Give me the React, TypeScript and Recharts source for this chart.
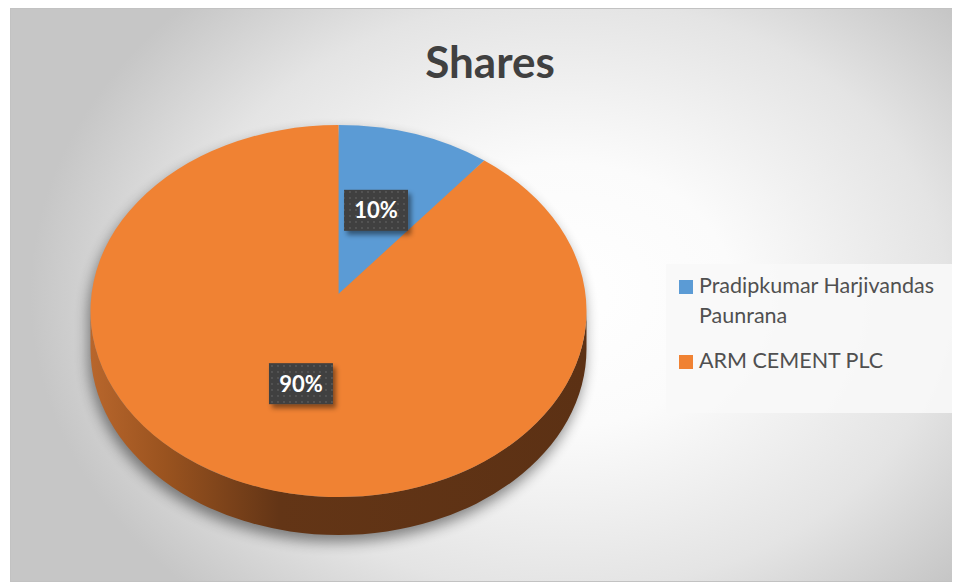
import React from 'react';
import { PieChart, Pie, Legend } from 'recharts';

const CATEGORIES = ['Pradipkumar Harjivandas Paunrana', 'ARM CEMENT PLC'];
const SHARES = [10, 90];
const COLORS = ['#5B9BD5', '#F08233'];
const SIDE_FILLS = ['#2f5f8c', 'url(#sideGrad)'];

const data = CATEGORIES.map((name, i) => ({ name, value: SHARES[i], fill: COLORS[i], side: SIDE_FILLS[i] }));

// tilt of the 3d pie
const K = 0.75; // vertical squash
const LIFT = 17; // apex sits above the ellipse centre
const DEPTH = 38; // thickness of the side
const RAD = Math.PI / 180;

const pt = (cx: number, cy: number, r: number, deg: number) => [
  cx + r * Math.cos(deg * RAD),
  cy - r * K * Math.sin(deg * RAD),
];

const topPath = (p: any) => {
  const { cx, cy, outerRadius: r, startAngle, endAngle } = p;
  const [x1, y1] = pt(cx, cy, r, startAngle);
  const [x2, y2] = pt(cx, cy, r, endAngle);
  const large = Math.abs(startAngle - endAngle) > 180 ? 1 : 0;
  return `M ${cx} ${cy - LIFT} L ${x1} ${y1} A ${r} ${r * K} 0 ${large} 1 ${x2} ${y2} Z`;
};

const sidePaths = (p: any) => {
  const { cx, cy, outerRadius: r, startAngle, endAngle } = p;
  const hi0 = Math.max(startAngle, endAngle);
  const lo0 = Math.min(startAngle, endAngle);
  const out: string[] = [];
  [[-180, 0], [180, 360], [-540, -360]].forEach(([a, b]) => {
    const lo = Math.max(lo0, a);
    const hi = Math.min(hi0, b);
    if (hi - lo <= 0.01) return;
    const [x1, y1] = pt(cx, cy, r, hi);
    const [x2, y2] = pt(cx, cy, r, lo);
    out.push(
      `M ${x1} ${y1} A ${r} ${r * K} 0 0 1 ${x2} ${y2} L ${x2} ${y2 + DEPTH} A ${r} ${r * K} 0 0 0 ${x1} ${y1 + DEPTH} Z`
    );
  });
  return out;
};

const ShadowShape = (p: any) => (
  <g filter="url(#pieShadow)" opacity={0.45}>
    <path d={topPath(p)} fill="#000" transform="translate(-2 7)" />
    {sidePaths(p).map((d, i) => (
      <path key={i} d={d} fill="#000" transform="translate(-2 7)" />
    ))}
  </g>
);

const SideShape = (p: any) => (
  <g>
    {sidePaths(p).map((d, i) => (
      <path key={i} d={d} fill={p.payload?.side ?? p.side} />
    ))}
  </g>
);

const TopShape = (p: any) => <path d={topPath(p)} fill={p.fill} />;

const renderLabel = (p: any) => {
  const { cx, cy, outerRadius, midAngle, percent } = p;
  const [x, y0] = pt(cx, cy - LIFT, outerRadius * 0.49, midAngle);
  const y = y0 + 3;
  const w = 64;
  const h = 41;
  return (
    <g>
      <rect x={x - w / 2} y={y - h / 2} width={w} height={h} fill="#404040" filter="url(#lblShadow)" />
      <rect x={x - w / 2} y={y - h / 2} width={w} height={h} fill="url(#dots)" />
      <text
        x={x}
        y={y + 8}
        textAnchor="middle"
        fill="#ffffff"
        fontFamily="Lato, 'Open Sans', sans-serif"
        fontWeight={700}
        fontSize={22}
      >
        {`${Math.round(percent * 100)}%`}
      </text>
    </g>
  );
};

const LegendBox = () => (
  <div
    style={{
      width: 292,
      height: 149,
      boxSizing: 'border-box',
      background: 'rgba(248,248,248,0.9)',
      padding: '6px 6px 0 13px',
      fontFamily: "Lato, 'Open Sans', sans-serif",
      fontSize: 21.5,
      lineHeight: '30px',
      color: '#505050',
    }}
  >
    {CATEGORIES.map((c, i) => (
      <div key={c} style={{ display: 'flex', alignItems: 'flex-start', marginBottom: 15 }}>
        <span style={{ width: 14, height: 14, background: COLORS[i], marginTop: 10, marginRight: 6, flexShrink: 0 }} />
        <span style={{ width: 250 }}>{c}</span>
      </div>
    ))}
  </div>
);

export default function App() {
  const cx = 327.5;
  const cy = 302;
  const r = 248;
  return (
    <div
      style={{
        position: 'relative',
        width: 952,
        height: 572,
        marginLeft: 2,
        border: '1px solid #c2c2c2',
        background:
          'radial-gradient(ellipse 56% 72% at 58% 50%, #ffffff 0%, #fbfbfb 32%, #e4e4e4 72%, #c6c6c6 100%)',
      }}
    >
      <svg width={0} height={0} style={{ position: 'absolute' }}>
        <defs>
          <linearGradient id="sideGrad" gradientUnits="userSpaceOnUse" x1={cx - r} y1={0} x2={cx + r} y2={0}>
            <stop offset="0%" stopColor="#b8662c" />
            <stop offset="15%" stopColor="#9a531f" />
            <stop offset="38%" stopColor="#633516" />
            <stop offset="100%" stopColor="#5c3114" />
          </linearGradient>
          <filter id="pieShadow" x="-20%" y="-20%" width="140%" height="140%">
            <feGaussianBlur stdDeviation="7" />
          </filter>
          <filter id="lblShadow" x="-30%" y="-30%" width="170%" height="170%">
            <feDropShadow dx="3" dy="4" stdDeviation="2.5" floodColor="#000" floodOpacity="0.45" />
          </filter>
          <pattern id="dots" width="6" height="6" patternUnits="userSpaceOnUse">
            <circle cx="3" cy="3" r="0.9" fill="#5a5a5a" />
          </pattern>
        </defs>
      </svg>
      <div
        style={{
          position: 'absolute',
          left: 0,
          width: 952,
          top: 27,
          textAlign: 'center',
          paddingLeft: 6,
          fontFamily: "Lato, 'Open Sans', sans-serif",
          fontWeight: 700,
          fontSize: 44,
          color: '#404040',
          lineHeight: '50px',
          boxSizing: 'border-box',
        }}
      >
        Shares
      </div>
      <PieChart
        width={952}
        height={572}
        margin={{ top: 0, right: 0, bottom: 0, left: 0 }}
        style={{ position: 'absolute', left: 0, top: 0 }}
      >
        <Pie
          data={data}
          dataKey="value"
          nameKey="name"
          cx={cx}
          cy={cy}
          outerRadius={r}
          startAngle={90}
          endAngle={-270}
          stroke="none"
          shape={ShadowShape}
          isAnimationActive={false}
          legendType="none"
        />
        <Pie
          data={data}
          dataKey="value"
          nameKey="name"
          cx={cx}
          cy={cy}
          outerRadius={r}
          startAngle={90}
          endAngle={-270}
          stroke="none"
          shape={SideShape}
          isAnimationActive={false}
          legendType="none"
        />
        <Pie
          data={data}
          dataKey="value"
          nameKey="name"
          cx={cx}
          cy={cy}
          outerRadius={r}
          startAngle={90}
          endAngle={-270}
          stroke="none"
          shape={TopShape}
          label={renderLabel}
          labelLine={false}
          isAnimationActive={false}
        />
        <Legend
          content={() => <LegendBox />}
          wrapperStyle={{ position: 'absolute', left: 655, top: 255, width: 292, height: 149 }}
        />
      </PieChart>
    </div>
  );
}
